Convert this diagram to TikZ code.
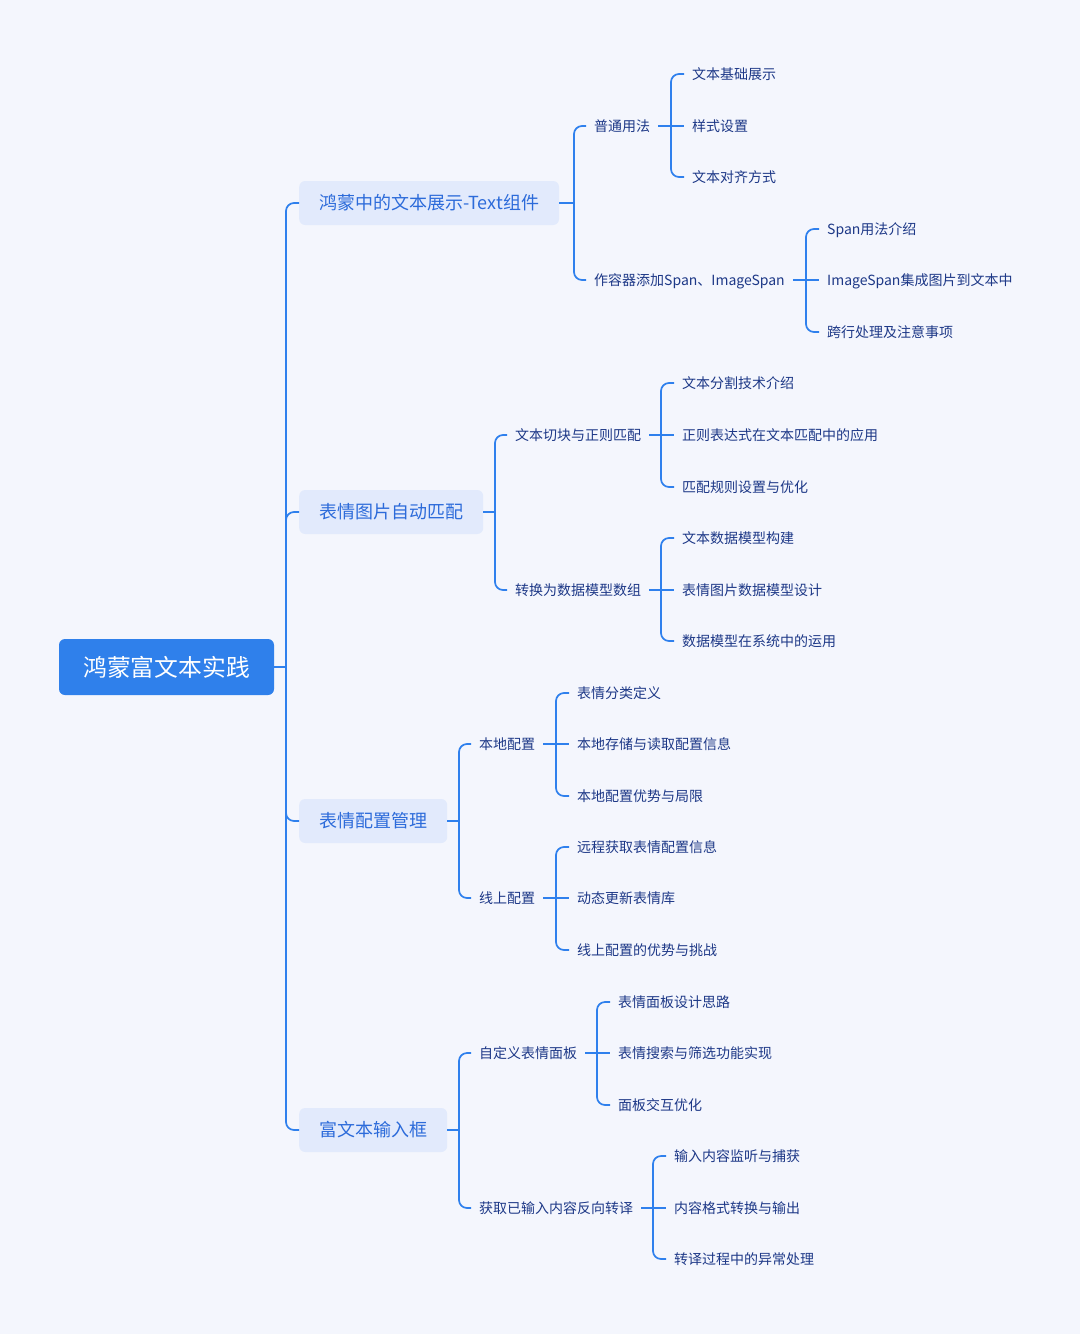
\documentclass[tikz,border=0pt]{standalone}
\usepackage{fontspec}
\setmainfont{Noto Sans CJK SC}
\definecolor{bgc}{HTML}{F4F6FD}
\definecolor{linec}{HTML}{2F80ED}
\definecolor{rootc}{HTML}{2F80EB}
\definecolor{lonefill}{HTML}{E2EAFC}
\definecolor{lonetext}{HTML}{2C6BDA}
\definecolor{darkt}{HTML}{1D3887}
\tikzset{
  rootbox/.style={fill=rootc, rounded corners=6pt, minimum width=215pt, minimum height=56pt, text=white, font=\fontsize{23.8}{26}\selectfont, inner sep=0pt, text height=20.9pt, text depth=2.9pt},
  lonebox/.style={fill=lonefill, rounded corners=6pt, inner xsep=20pt, inner ysep=0pt, minimum height=44pt, text=lonetext, font=\fontsize{18}{20}\selectfont, anchor=west, text height=15.8pt, text depth=2.2pt},
  leaf/.style={inner sep=0pt, anchor=west, text=darkt, font=\fontsize{14}{16}\selectfont, text height=12.3pt, text depth=1.7pt},
  conn/.style={draw=linec, line width=1.7pt, rounded corners=8pt},
}
\begin{document}
\begin{tikzpicture}[x=1pt,y=-1pt]
\fill[bgc] (0,0) rectangle (1080,1334);
\useasboundingbox (0,0) rectangle (1080,1334);
% root
\node[rootbox] (r) at (166.5,667) {鸿蒙富文本实践};
% level 1
\node[lonebox] (a) at (299,203) {鸿蒙中的文本展示-Text组件};
\node[lonebox] (b) at (299,512) {表情图片自动匹配};
\node[lonebox] (c) at (299,821) {表情配置管理};
\node[lonebox] (d) at (299,1130) {富文本输入框};
% level 2
\node[leaf] (a1) at (594,126) {普通用法};
\node[leaf] (a2) at (594,280) {作容器添加Span、ImageSpan};
\node[leaf] (b1) at (515,435) {文本切块与正则匹配};
\node[leaf] (b2) at (515,590) {转换为数据模型数组};
\node[leaf] (c1) at (479,744) {本地配置};
\node[leaf] (c2) at (479,898) {线上配置};
\node[leaf] (d1) at (479,1053) {自定义表情面板};
\node[leaf] (d2) at (479,1208) {获取已输入内容反向转译};
% level 3
\node[leaf] (a11) at (692,74) {文本基础展示};
\node[leaf] (a12) at (692,126) {样式设置};
\node[leaf] (a13) at (692,177) {文本对齐方式};
\node[leaf] (a21) at (827,229) {Span用法介绍};
\node[leaf] (a22) at (827,280) {ImageSpan集成图片到文本中};
\node[leaf] (a23) at (827,332) {跨行处理及注意事项};
\node[leaf] (b11) at (682,383) {文本分割技术介绍};
\node[leaf] (b12) at (682,435) {正则表达式在文本匹配中的应用};
\node[leaf] (b13) at (682,487) {匹配规则设置与优化};
\node[leaf] (b21) at (682,538) {文本数据模型构建};
\node[leaf] (b22) at (682,590) {表情图片数据模型设计};
\node[leaf] (b23) at (682,641) {数据模型在系统中的运用};
\node[leaf] (c11) at (577,693) {表情分类定义};
\node[leaf] (c12) at (577,744) {本地存储与读取配置信息};
\node[leaf] (c13) at (577,796) {本地配置优势与局限};
\node[leaf] (c21) at (577,847) {远程获取表情配置信息};
\node[leaf] (c22) at (577,898) {动态更新表情库};
\node[leaf] (c23) at (577,950) {线上配置的优势与挑战};
\node[leaf] (d11) at (618,1002) {表情面板设计思路};
\node[leaf] (d12) at (618,1053) {表情搜索与筛选功能实现};
\node[leaf] (d13) at (618,1105) {面板交互优化};
\node[leaf] (d21) at (674,1156) {输入内容监听与捕获};
\node[leaf] (d22) at (674,1208) {内容格式转换与输出};
\node[leaf] (d23) at (674,1259) {转译过程中的异常处理};
% root connectors
\coordinate (jr) at ([xshift=-13pt]a.west |- r.east);
\draw[conn] (r.east) -- (jr);
\foreach \k in {a,b,c,d} \draw[conn] (jr) |- (\k.west);
% level 1 connectors
\foreach \p in {a,b,c,d}{
  \coordinate (j\p) at ([xshift=-20pt]\p1.west |- \p.east);
  \draw[conn] (\p.east) -- (j\p);
  \foreach \q in {1,2} \draw[conn] (j\p) |- ([xshift=-8pt]\p\q.west);
}
% level 2 connectors
\foreach \p in {a1,a2,b1,b2,c1,c2,d1,d2}{
  \coordinate (j\p) at ([xshift=-21pt]\p1.west |- \p.east);
  \draw[conn] ([xshift=8pt]\p.east) -- ([xshift=-8pt]\p2.west);
  \foreach \q in {1,3} \draw[conn] (j\p) |- ([xshift=-8pt]\p\q.west);
}
\end{tikzpicture}
\end{document}
